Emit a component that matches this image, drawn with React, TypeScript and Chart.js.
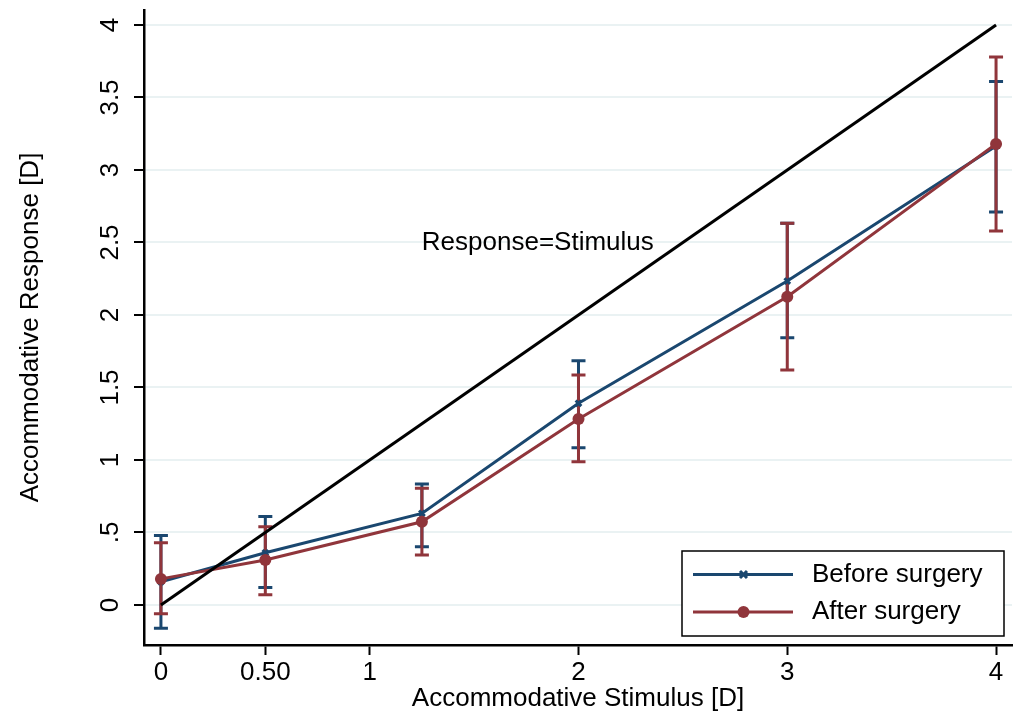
import React, { useEffect, useRef } from "react";
import { Chart, registerables } from "chart.js";

Chart.register(...registerables);

// ---- data ----
const stimulus = [0, 0.5, 1.25, 2, 3, 4];
const beforeMean = [0.16, 0.36, 0.632, 1.391, 2.234, 3.165];
const beforeLow = [-0.16, 0.12, 0.402, 1.085, 1.843, 2.71];
const beforeHigh = [0.48, 0.61, 0.834, 1.685, 2.633, 3.61];
const afterMean = [0.18, 0.31, 0.574, 1.283, 2.126, 3.18];
const afterLow = [-0.06, 0.07, 0.345, 0.988, 1.62, 2.58];
const afterHigh = [0.43, 0.54, 0.805, 1.586, 2.633, 3.78];
const identityX = [0, 4];
const identityY = [0, 4];
const xTicks = [0, 0.5, 1, 2, 3, 4];
const xTickLabels = ["0", "0.50", "1", "2", "3", "4"];
const yTicks = [0, 0.5, 1, 1.5, 2, 2.5, 3, 3.5, 4];
const yTickLabels = ["0", ".5", "1", "1.5", "2", "2.5", "3", "3.5", "4"];
const seriesNames = ["Before surgery", "After surgery"];
const annotationText = "Response=Stimulus";
const annotationPos = [1.805, 2.5];

const BLUE = "#1a476f";
const RED = "#90353b";
const FONT = "'Liberation Sans', Arial, sans-serif";
const FS = 26;

const errorBarsPlugin = {
  id: "errorBars",
  beforeDatasetsDraw(chart: any) {
    const { ctx, scales } = chart;
    const xs = scales.x;
    const ys = scales.y;
    const draw = (lows: number[], highs: number[], color: string) => {
      ctx.save();
      ctx.strokeStyle = color;
      ctx.lineWidth = 3;
      for (let i = 0; i < stimulus.length; i++) {
        const px = xs.getPixelForValue(stimulus[i]);
        const pl = ys.getPixelForValue(lows[i]);
        const ph = ys.getPixelForValue(highs[i]);
        ctx.beginPath();
        ctx.moveTo(px, pl);
        ctx.lineTo(px, ph);
        ctx.moveTo(px - 7, pl);
        ctx.lineTo(px + 7, pl);
        ctx.moveTo(px - 7, ph);
        ctx.lineTo(px + 7, ph);
        ctx.stroke();
      }
      ctx.restore();
    };
    draw(beforeLow, beforeHigh, BLUE);
    draw(afterLow, afterHigh, RED);
  },
  afterDraw(chart: any) {
    const { ctx, scales, chartArea } = chart;
    const ys = scales.y;
    const xs = scales.x;
    ctx.save();
    // rotated y tick labels
    ctx.fillStyle = "#000";
    ctx.font = `${FS}px ${FONT}`;
    ctx.textAlign = "center";
    ctx.textBaseline = "middle";
    yTicks.forEach((v, i) => {
      const py = ys.getPixelForValue(v);
      ctx.save();
      ctx.translate(111, py);
      ctx.rotate(-Math.PI / 2);
      ctx.fillText(yTickLabels[i], 0, 0);
      ctx.restore();
    });
    // annotation
    ctx.fillText(
      annotationText,
      xs.getPixelForValue(annotationPos[0]),
      ys.getPixelForValue(annotationPos[1])
    );
    // legend
    const w = 322;
    const h = 85;
    const right = chartArea.right - 8;
    const bottom = chartArea.bottom - 9;
    const left = right - w;
    const top = bottom - h;
    ctx.fillStyle = "#fff";
    ctx.fillRect(left, top, w, h);
    ctx.strokeStyle = "#000";
    ctx.lineWidth = 1.5;
    ctx.strokeRect(left, top, w, h);
    const rows = [top + 23.5, top + 61];
    const colors = [BLUE, RED];
    rows.forEach((ry, i) => {
      ctx.strokeStyle = colors[i];
      ctx.lineWidth = 3;
      ctx.beginPath();
      ctx.moveTo(left + 11, ry);
      ctx.lineTo(left + 111, ry);
      ctx.stroke();
      const mx = left + 61.5;
      if (i === 0) {
        ctx.beginPath();
        ctx.moveTo(mx - 3.5, ry - 3.5);
        ctx.lineTo(mx + 3.5, ry + 3.5);
        ctx.moveTo(mx - 3.5, ry + 3.5);
        ctx.lineTo(mx + 3.5, ry - 3.5);
        ctx.stroke();
      } else {
        ctx.fillStyle = RED;
        ctx.beginPath();
        ctx.arc(mx, ry, 6, 0, Math.PI * 2);
        ctx.fill();
      }
      ctx.fillStyle = "#000";
      ctx.textAlign = "left";
      ctx.textBaseline = "middle";
      ctx.fillText(seriesNames[i], left + 130, ry);
    });
    ctx.restore();
  },
};

export default function App() {
  const ref = useRef<HTMLCanvasElement | null>(null);
  useEffect(() => {
    if (!ref.current) return;
    const chart = new Chart(ref.current, {
      type: "line",
      data: {
        datasets: [
          {
            label: "Response=Stimulus",
            data: identityX.map((x, i) => ({ x, y: identityY[i] })),
            borderColor: "#000",
            borderWidth: 3,
            pointRadius: 0,
            order: 0,
          },
          {
            label: seriesNames[1],
            data: stimulus.map((x, i) => ({ x, y: afterMean[i] })),
            borderColor: RED,
            backgroundColor: RED,
            borderWidth: 3,
            pointStyle: "circle",
            pointRadius: 6,
            pointBorderWidth: 0,
            pointBackgroundColor: RED,
            order: 1,
          },
          {
            label: seriesNames[0],
            data: stimulus.map((x, i) => ({ x, y: beforeMean[i] })),
            borderColor: BLUE,
            backgroundColor: BLUE,
            borderWidth: 3,
            pointStyle: "crossRot",
            pointRadius: 4,
            pointBorderWidth: 3,
            pointBorderColor: BLUE,
            order: 2,
          },
        ],
      },
      options: {
        responsive: false,
        animation: false,
        events: [],
        layout: { padding: { top: 10, right: 4, left: 0, bottom: 0 } },
        plugins: {
          legend: { display: false },
          tooltip: { enabled: false },
        },
        scales: {
          x: {
            type: "linear",
            min: -0.0811,
            max: 4.0764,
            afterBuildTicks: (s: any) => {
              s.ticks = xTicks.map((v) => ({ value: v }));
            },
            afterFit: (s: any) => {
              s.height = 72;
            },
            ticks: {
              autoSkip: false,
              maxRotation: 0,
              minRotation: 0,
              padding: 2,
              color: "#000",
              font: { family: FONT, size: FS },
              callback: (v: any) => {
                const i = xTicks.indexOf(Number(v));
                return i >= 0 ? xTickLabels[i] : "";
              },
            },
            grid: {
              drawOnChartArea: false,
              drawTicks: true,
              tickLength: 10,
              tickColor: "#000",
              tickWidth: 2,
            },
            border: { display: true, color: "#000", width: 2.5 },
            title: {
              display: true,
              text: "Accommodative Stimulus [D]",
              color: "#000",
              font: { family: FONT, size: FS },
              padding: { top: 0, bottom: 3 },
            },
          },
          y: {
            type: "linear",
            min: -0.2759,
            max: 4.1034,
            afterBuildTicks: (s: any) => {
              s.ticks = yTicks.map((v) => ({ value: v }));
            },
            afterFit: (s: any) => {
              s.width = 144;
            },
            ticks: { display: false },
            grid: {
              color: "#eaf2f3",
              lineWidth: 2,
              drawTicks: true,
              tickLength: 10,
              tickColor: "#000",
              tickWidth: 2,
            },
            border: { display: true, color: "#000", width: 2.5 },
            title: {
              display: true,
              text: "Accommodative Response [D]",
              color: "#000",
              font: { family: FONT, size: FS },
              padding: { top: 15, bottom: 0 },
            },
          },
        },
      },
      plugins: [errorBarsPlugin],
    });
    return () => chart.destroy();
  }, []);
  return (
    <div style={{ position: "absolute", left: 0, top: 0, width: 1019, height: 717, background: "#fff" }}>
      <canvas ref={ref} width={1019} height={717} style={{ display: "block" }} />
    </div>
  );
}
